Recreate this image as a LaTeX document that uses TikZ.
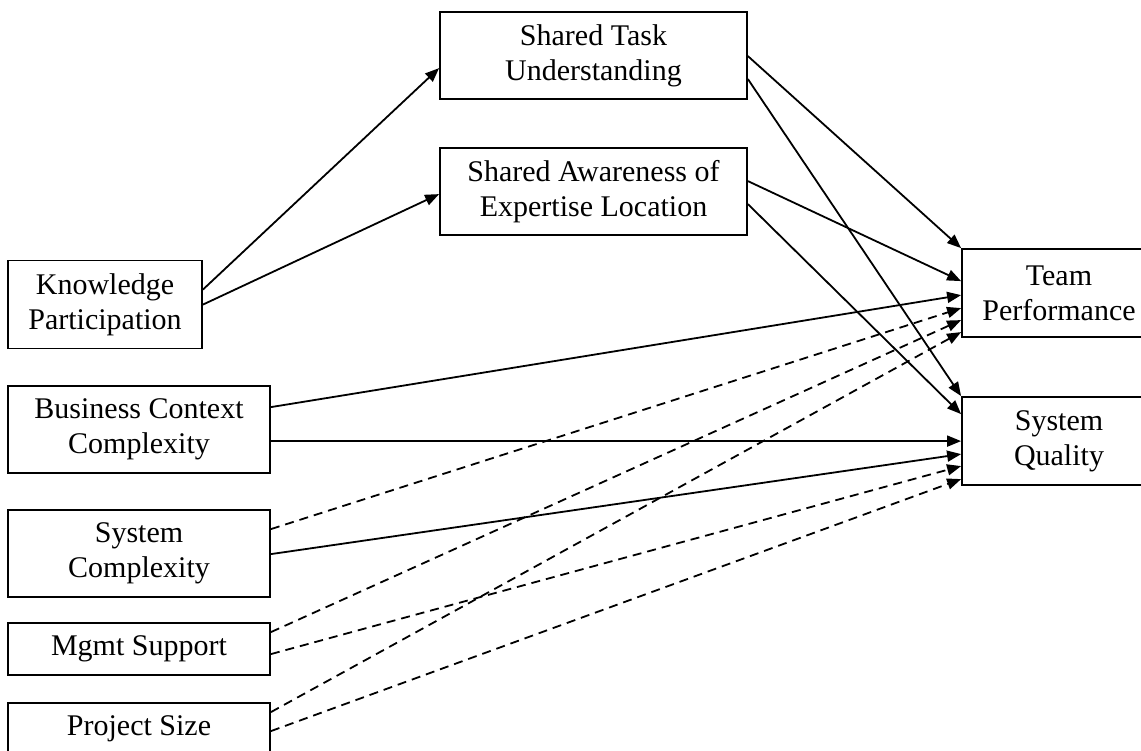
\documentclass[tikz,border=0pt]{standalone}
\usepackage{fontspec}
\setmainfont{Liberation Serif}
\usetikzlibrary{arrows.meta,calc}
\begin{document}
\begin{tikzpicture}[x=1pt,y=-1pt,
    box/.style={draw,line width=1.8pt,align=center,inner sep=0pt,font=\fontsize{30}{35}\selectfont},
    link/.style={line width=1.8pt,-{Triangle[length=14pt,width=11pt]}},
    ctrl/.style={link,dash pattern=on 9pt off 6pt}]
    \useasboundingbox (0,0) rectangle (1141,750);

    % Mediators
    \node[box,minimum width=307pt,minimum height=87pt] (stu) at (593.5,55.5) {Shared Task\\Understanding};
    \node[box,minimum width=307pt,minimum height=87pt] (sael) at (593.5,191.5) {Shared Awareness of\\Expertise Location};

    % Antecedents and controls
    \node[box,minimum width=194pt,minimum height=88pt] (kp) at (105,304.5) {Knowledge\\Participation};
    \node[box,minimum width=262pt,minimum height=87pt] (bcc) at (139,429.5) {Business Context\\Complexity};
    \node[box,minimum width=262pt,minimum height=87pt] (sc) at (139,553.5) {System\\Complexity};
    \node[box,minimum width=262pt,minimum height=52pt] (ms) at (139,649) {Mgmt Support};
    \node[box,minimum width=262pt,minimum height=52pt] (ps) at (139,729) {Project Size};

    % Outcomes
    \node[box,minimum width=194pt,minimum height=88pt] (tp) at (1059,293) {Team\\Performance};
    \node[box,minimum width=194pt,minimum height=88pt] (sq) at (1059,441) {System\\Quality};

    % Knowledge participation paths
    \draw[link] ($(kp.north east)+(0,30)$) -- ($(stu.north west)+(0,57)$);
    \draw[link] ($(kp.north east)+(0,45)$) -- ($(sael.north west)+(0,47)$);

    % Mediator paths
    \draw[link] ($(stu.north east)+(0,45)$) -- (tp.north west);
    \draw[link] ($(stu.north east)+(0,68)$) -- (sq.north west);
    \draw[link] ($(sael.north east)+(0,34)$) -- ($(tp.north west)+(0,33)$);
    \draw[link] ($(sael.north east)+(0,57)$) -- ($(sq.north west)+(0,18)$);

    % Complexity paths
    \draw[link] ($(bcc.north east)+(0,22)$) -- ($(tp.north west)+(0,47)$);
    \draw[link] ($(bcc.north east)+(0,56)$) -- ($(sq.north west)+(0,45)$);
    \draw[link] ($(sc.north east)+(0,45)$) -- ($(sq.north west)+(0,58)$);

    % Controls
    \draw[ctrl] ($(sc.north east)+(0,20)$) -- ($(tp.north west)+(0,60)$);
    \draw[ctrl] ($(ms.north east)+(0,10)$) -- ($(tp.north west)+(0,72)$);
    \draw[ctrl] ($(ms.north east)+(0,32)$) -- ($(sq.north west)+(0,70)$);
    \draw[ctrl] ($(ps.north east)+(0,10)$) -- ($(tp.north west)+(0,84)$);
    \draw[ctrl] ($(ps.north east)+(0,29)$) -- ($(sq.north west)+(0,83)$);
\end{tikzpicture}
\end{document}
